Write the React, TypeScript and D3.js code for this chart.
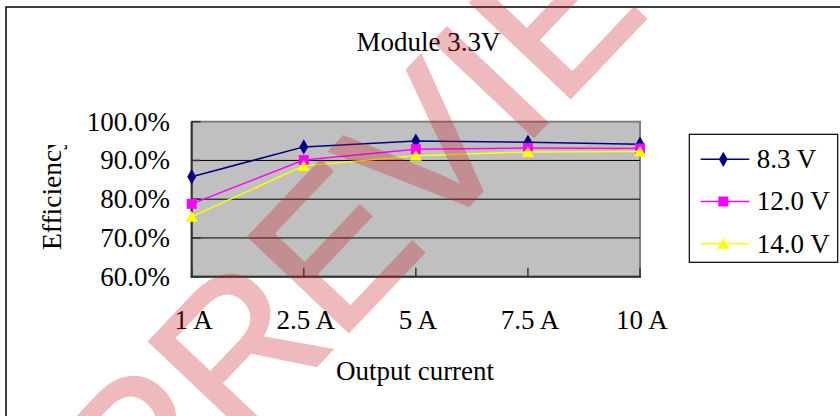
import React from "react";
import { scalePoint, scaleLinear, line, symbol, symbolDiamond, symbolSquare, symbolTriangle } from "d3";

const categories = ["1 A", "2.5 A", "5 A", "7.5 A", "10 A"];
const seriesNames = ["8.3 V", "12.0 V", "14.0 V"];
const eff83 = [85.8, 93.5, 95.0, 94.7, 94.2];
const eff120 = [78.8, 90.1, 92.9, 93.2, 93.1];
const eff140 = [75.5, 88.6, 91.2, 92.2, 92.3];
const yTicks = [60, 70, 80, 90, 100];

const colors = ["#000080", "#FF00FF", "#FFFF00"];
const shapes = [symbolDiamond, symbolSquare, symbolTriangle];
const font = "'Liberation Serif', 'Times New Roman', serif";

export default function App() {
  const width = 840;
  const height = 416;
  const plot = { left: 191.7, right: 640, top: 121.7, bottom: 276.7 };

  const xScale = scalePoint().domain(categories).range([plot.left, plot.right]);
  const yScale = scaleLinear().domain([60, 100]).range([plot.bottom, plot.top]);

  const series = [eff83, eff120, eff140];
  const lineGen = line<number>()
    .x((d, i) => xScale(categories[i]) as number)
    .y(d => yScale(d));

  const markerPath = (k: number) =>
    symbol().type(shapes[k]).size(k === 0 ? 68 : k === 1 ? 100 : 64)() as string;

  const legendY = [159.3, 201.5, 243.8];

  return (
    <svg
      width={width}
      height={height}
      style={{ position: "absolute", left: 0, top: 0, background: "white" }}
    >
      <defs>
        <clipPath id="ytitle">
          <rect x={0} y={145} width={120} height={200} />
        </clipPath>
      </defs>

      {/* outer chart frame */}
      <rect x={6} y={7} width={900} height={500} fill="white" stroke="black" strokeWidth={1.5} />

      <text x={428.5} y={50.7} textAnchor="middle" fontFamily={font} fontSize={27}>
        Module 3.3V
      </text>

      {/* plot area */}
      <rect
        x={plot.left}
        y={plot.top}
        width={plot.right - plot.left}
        height={plot.bottom - plot.top}
        fill="#C0C0C0"
        stroke="#808080"
        strokeWidth={2}
      />
      {yTicks.slice(1, -1).map(t => (
        <line key={t} x1={plot.left} x2={plot.right} y1={yScale(t)} y2={yScale(t)} stroke="black" strokeWidth={1} />
      ))}
      <line x1={plot.left} x2={plot.left} y1={plot.top} y2={plot.bottom + 1} stroke="#333" strokeWidth={2} />
      <line x1={plot.left - 1} x2={plot.right + 1} y1={plot.bottom} y2={plot.bottom} stroke="#333" strokeWidth={2} />
      {yTicks.map(t => (
        <g key={t}>
          <line x1={plot.left} x2={plot.left + 9} y1={yScale(t)} y2={yScale(t)} stroke="#333" strokeWidth={1.5} />
          <text x={170} y={yScale(t)} dy="0.33em" textAnchor="end" fontFamily={font} fontSize={27}>
            {t.toFixed(1)}%
          </text>
        </g>
      ))}
      {categories.map(c => (
        <g key={c}>
          <line x1={xScale(c)} x2={xScale(c)} y1={plot.bottom} y2={plot.bottom - 9} stroke="#333" strokeWidth={1.5} />
          <text x={(xScale(c) as number) + 2} y={329.3} textAnchor="middle" fontFamily={font} fontSize={27}>
            {c}
          </text>
        </g>
      ))}

      <text x={415} y={380} textAnchor="middle" fontFamily={font} fontSize={27}>
        Output current
      </text>
      <g clipPath="url(#ytitle)">
        <text transform="translate(61,250) rotate(-90)" fontFamily={font} fontSize={27.5}>
          Efficiency
        </text>
      </g>

      {/* series */}
      {series.map((s, k) => (
        <g key={k}>
          <path d={lineGen(s) as string} fill="none" stroke={colors[k]} strokeWidth={1.5} />
          {s.map((v, i) => (
            <path
              key={i}
              d={markerPath(k)}
              transform={`translate(${xScale(categories[i])},${yScale(v) + (k === 2 ? 1.5 : 0)})`}
              fill={colors[k]}
            />
          ))}
        </g>
      ))}

      {/* legend */}
      <rect x={689.3} y={134.3} width={148.4} height={128} fill="white" stroke="black" strokeWidth={1.2} />
      {seriesNames.map((n, k) => (
        <g key={n}>
          <line x1={700.7} x2={749.3} y1={legendY[k]} y2={legendY[k]} stroke={colors[k]} strokeWidth={1.5} />
          <path
            d={markerPath(k)}
            transform={`translate(723.3,${legendY[k] + (k === 2 ? 1.5 : 0)})`}
            fill={colors[k]}
          />
          <text x={756.7} y={legendY[k]} dy="0.33em" fontFamily={font} fontSize={27}>
            {n}
          </text>
        </g>
      ))}

      {/* watermark */}
      <g transform="translate(413,162) rotate(-46.5)" opacity={0.3}>
        <text
          y={70}
          textAnchor="middle"
          fontFamily="'Liberation Sans', Arial, sans-serif"
          fontSize={200}
          fill="#C81E28"
          stroke="#C81E28"
          strokeWidth={3}
        >
          PREVIEW
        </text>
      </g>
    </svg>
  );
}
